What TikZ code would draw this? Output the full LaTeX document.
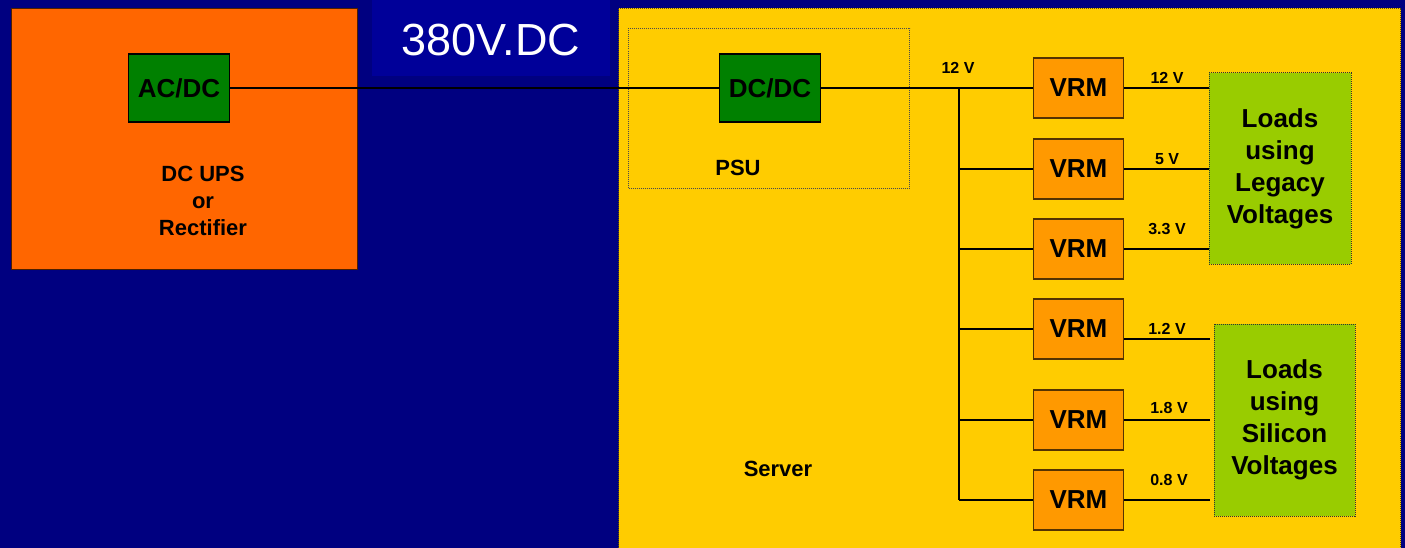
\documentclass[tikz,border=0pt]{standalone}
\usepackage{fontspec}
\setmainfont{Liberation Sans}
\definecolor{navy}{HTML}{000080}
\definecolor{bandblue}{HTML}{000099}
\definecolor{upsorange}{HTML}{FF6600}
\definecolor{convgreen}{HTML}{008000}
\definecolor{serveryellow}{HTML}{FFCC00}
\definecolor{vrmorange}{HTML}{FF9900}
\definecolor{loadgreen}{HTML}{99CC00}
\definecolor{vrmedge}{HTML}{553300}
\tikzset{
  conv/.style={draw=black, line width=1.2pt, fill=convgreen, minimum width=101pt, minimum height=68pt, inner sep=0pt, font=\fontsize{26}{30}\selectfont\bfseries},
  vrmbox/.style={draw=vrmedge, line width=1.4pt, fill=vrmorange, minimum width=90pt, minimum height=60pt, inner sep=0pt, font=\fontsize{26}{30}\selectfont\bfseries},
  loadbox/.style={draw=black!80, densely dotted, line width=1pt, fill=loadgreen, inner sep=0pt, align=center, font=\fontsize{26}{32}\selectfont\bfseries},
  vlabel/.style={font=\fontsize{16}{18}\selectfont\bfseries, inner sep=0pt},
  caption/.style={font=\fontsize{22}{27}\selectfont\bfseries, inner sep=0pt, align=center},
  wire/.style={line width=1.2pt, draw=black}
}
\begin{document}
\begin{tikzpicture}[x=1pt,y=-1pt]
\useasboundingbox (0,0) rectangle (1405,548);
\fill[navy] (0,0) rectangle (1405,548);
\fill[bandblue] (372,0) rectangle (610,76);
\node[text=white, font=\fontsize{45}{50}\selectfont, inner sep=0pt] (title) at (491,40) {380V.DC};

% UPS
\node[draw=black!70!upsorange, line width=1.2pt, fill=upsorange, minimum width=346pt, minimum height=261pt, anchor=north west] (ups) at (11,8) {};
\node[conv] (acdc) at (179,88) {AC/DC};
\node[caption] (upslabel) at (203,201) {DC UPS\\or\\Rectifier};

% Server
\node[draw=black!60!serveryellow, densely dotted, line width=1pt, fill=serveryellow, minimum width=782pt, minimum height=560pt, anchor=north west, inner sep=0pt] (server) at (618,8) {};
\node[caption] (serverlabel) at (778,469) {Server};

% PSU
\node[draw=black!70, densely dotted, line width=1pt, minimum width=281pt, minimum height=160pt, anchor=north west, inner sep=0pt] (psu) at (628,28) {};
\node[caption] (psulabel) at (738,168) {PSU};
\node[conv] (dcdc) at (770,88) {DC/DC};

% VRMs
\node[vrmbox] (v1) at (1078.5,88) {VRM};
\node[vrmbox] (v2) at (1078.5,169) {VRM};
\node[vrmbox] (v3) at (1078.5,249) {VRM};
\node[vrmbox] (v4) at (1078.5,329) {VRM};
\node[vrmbox] (v5) at (1078.5,420) {VRM};
\node[vrmbox] (v6) at (1078.5,500) {VRM};

% Loads
\node[loadbox, minimum width=142pt, minimum height=191pt] (legacy) at (1280,168.5) {Loads\\using\\Legacy\\Voltages};
\node[loadbox, minimum width=141pt, minimum height=192pt] (silicon) at (1284.5,420) {Loads\\using\\Silicon\\Voltages};

% wires
\coordinate (bustop) at (959,88);
\coordinate (busbot) at (959,500);
\draw[wire] (acdc.east) -- (dcdc.west);
\draw[wire] (dcdc.east) -- (v1.west);
\draw[wire] (bustop) -- (busbot);
\draw[wire] (v2.west -| bustop) -- (v2.west);
\draw[wire] (v3.west -| bustop) -- (v3.west);
\draw[wire] (v4.west -| bustop) -- (v4.west);
\draw[wire] (v5.west -| bustop) -- (v5.west);
\draw[wire] (busbot) -- (v6.west);
\node[vlabel] (busv) at (958,68) {12 V};

\draw[wire] (v1.east) -- (v1.east -| legacy.west);
\draw[wire] (v2.east) -- (v2.east -| legacy.west);
\draw[wire] (v3.east) -- (v3.east -| legacy.west);
\draw[wire] ([yshift=-10pt]v4.east) -- ([yshift=-10pt,xshift=-4pt]v4.east -| silicon.west);
\draw[wire] (v5.east) -- ([xshift=-4pt]v5.east -| silicon.west);
\draw[wire] (v6.east) -- ([xshift=-4pt]v6.east -| silicon.west);

\node[vlabel] (l1) at (1167,78) {12 V};
\node[vlabel] (l2) at (1167,159) {5 V};
\node[vlabel] (l3) at (1167,229) {3.3 V};
\node[vlabel] (l4) at (1167,329) {1.2 V};
\node[vlabel] (l5) at (1169,408) {1.8 V};
\node[vlabel] (l6) at (1169,480) {0.8 V};
\end{tikzpicture}
\end{document}
